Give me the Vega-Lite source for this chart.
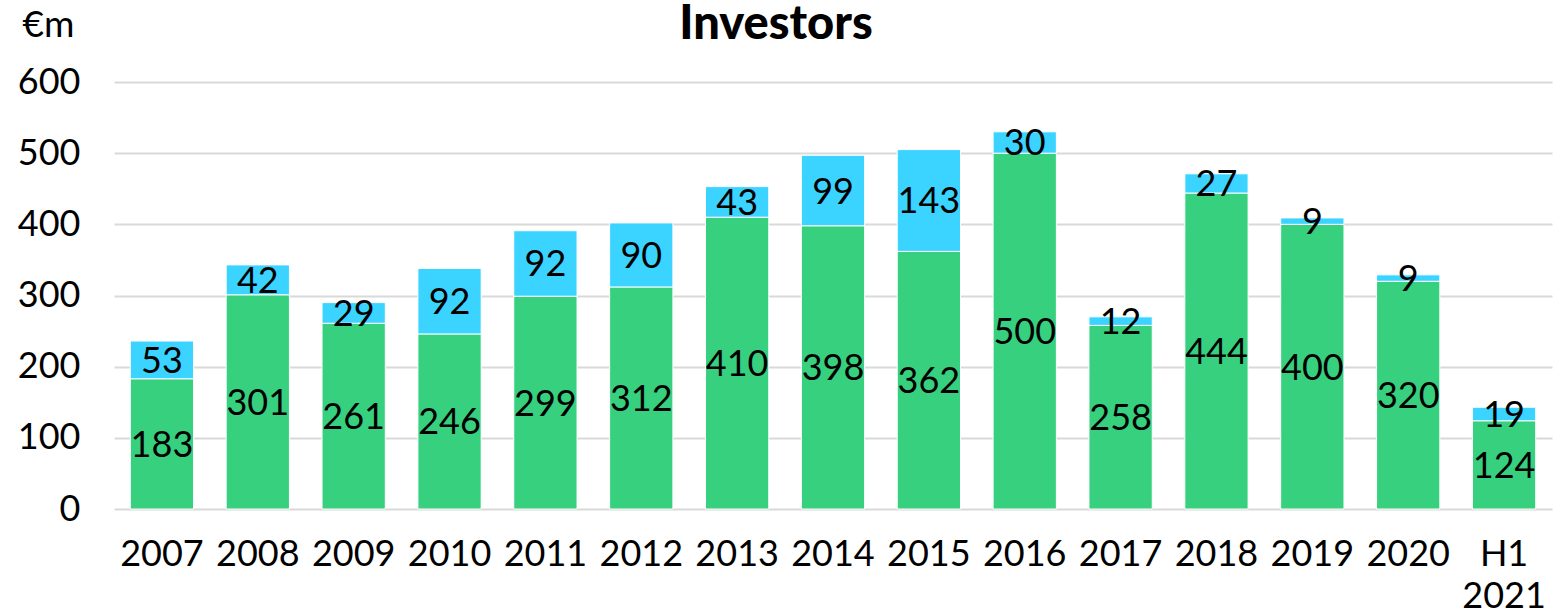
{
  "$schema": "https://vega.github.io/schema/vega-lite/v6.json",
  "autosize": "none",
  "width": 1438,
  "height": 427,
  "padding": {"left": 114, "top": 82, "right": 12, "bottom": 106},
  "background": "white",
  "title": {
    "text": "Investors",
    "font": "Lato",
    "fontSize": 47,
    "fontWeight": 900,
    "color": "black",
    "anchor": "middle",
    "frame": "group",
    "baseline": "alphabetic",
    "offset": -80,
    "dx": -57
  },
  "config": {
    "view": {"stroke": null},
    "font": "Lato"
  },
  "data": {
    "values": [
      {"year": "2007", "series": "Series 1", "value": 183},
      {"year": "2007", "series": "Series 2", "value": 53},
      {"year": "2008", "series": "Series 1", "value": 301},
      {"year": "2008", "series": "Series 2", "value": 42},
      {"year": "2009", "series": "Series 1", "value": 261},
      {"year": "2009", "series": "Series 2", "value": 29},
      {"year": "2010", "series": "Series 1", "value": 246},
      {"year": "2010", "series": "Series 2", "value": 92},
      {"year": "2011", "series": "Series 1", "value": 299},
      {"year": "2011", "series": "Series 2", "value": 92},
      {"year": "2012", "series": "Series 1", "value": 312},
      {"year": "2012", "series": "Series 2", "value": 90},
      {"year": "2013", "series": "Series 1", "value": 410},
      {"year": "2013", "series": "Series 2", "value": 43},
      {"year": "2014", "series": "Series 1", "value": 398},
      {"year": "2014", "series": "Series 2", "value": 99},
      {"year": "2015", "series": "Series 1", "value": 362},
      {"year": "2015", "series": "Series 2", "value": 143},
      {"year": "2016", "series": "Series 1", "value": 500},
      {"year": "2016", "series": "Series 2", "value": 30},
      {"year": "2017", "series": "Series 1", "value": 258},
      {"year": "2017", "series": "Series 2", "value": 12},
      {"year": "2018", "series": "Series 1", "value": 444},
      {"year": "2018", "series": "Series 2", "value": 27},
      {"year": "2019", "series": "Series 1", "value": 400},
      {"year": "2019", "series": "Series 2", "value": 9},
      {"year": "2020", "series": "Series 1", "value": 320},
      {"year": "2020", "series": "Series 2", "value": 9},
      {"year": "H1 2021", "series": "Series 1", "value": 124},
      {"year": "H1 2021", "series": "Series 2", "value": 19}
    ]
  },
  "transform": [
    {"stack": "value", "groupby": ["year"], "sort": [{"field": "series", "order": "ascending"}], "as": ["y0", "y1"]}
  ],
  "encoding": {
    "x": {
      "field": "year",
      "type": "nominal",
      "sort": null,
      "scale": {"paddingInner": 0.34, "paddingOuter": 0.17},
      "axis": {
        "title": null,
        "labelAngle": 0,
        "labelFontSize": 36,
        "labelColor": "black",
        "labelPadding": 28,
        "labelLineHeight": 42,
        "ticks": false,
        "domain": false,
        "labelExpr": "datum.value == 'H1 2021' ? ['H1', '2021'] : datum.value"
      }
    }
  },
  "layer": [
    {
      "mark": {"type": "bar", "stroke": "white", "strokeWidth": 1},
      "encoding": {
        "y": {
          "field": "y0",
          "type": "quantitative",
          "scale": {"domain": [0, 600]},
          "axis": {
            "values": [0, 100, 200, 300, 400, 500, 600],
            "title": "€m",
            "titleAngle": 0,
            "titleFontSize": 37,
            "titleFontWeight": "normal",
            "titleColor": "black",
            "titleAlign": "center",
            "titleBaseline": "middle",
            "titleX": -66,
            "titleY": -57,
            "labelFontSize": 36,
            "labelColor": "black",
            "labelPadding": 34,
            "ticks": false,
            "domain": false,
            "gridColor": "#D9D9D9",
            "gridWidth": 2
          }
        },
        "y2": {"field": "y1"},
        "color": {
          "field": "series",
          "type": "nominal",
          "scale": {"domain": ["Series 1", "Series 2"], "range": ["#36D07E", "#3BD3FF"]},
          "legend": null
        }
      }
    },
    {
      "transform": [
        {"fold": ["y0", "y1"], "as": ["edge", "pos"]},
        {"aggregate": [{"op": "mean", "field": "pos", "as": "mid"}], "groupby": ["year", "series", "value"]}
      ],
      "mark": {"type": "text", "fontSize": 36, "color": "black", "baseline": "middle", "align": "center", "dy": 2},
      "encoding": {
        "y": {"field": "mid", "type": "quantitative"},
        "text": {"field": "value", "type": "quantitative"}
      }
    }
  ]
}
